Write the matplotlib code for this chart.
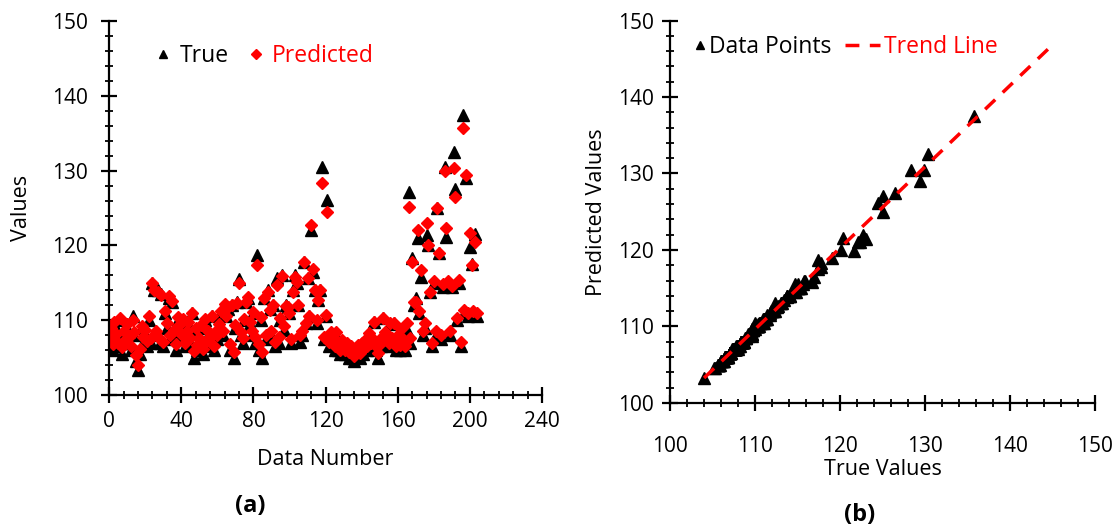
import numpy as np
import matplotlib
matplotlib.use("Agg")
import matplotlib.pyplot as plt
from matplotlib.ticker import MultipleLocator

plt.rcParams["font.family"] = ["Open Sans", "DejaVu Sans"]

# true values
true_vals = [
    107, 108.5, 106, 109.5, 107.5, 106.5, 110, 105.5, 108, 107,
    109, 107, 106, 110.5, 108, 104.5, 103.3, 105.5, 109, 107,
    108, 106.5, 110, 107, 115, 114, 108, 114, 107, 113.5,
    106.5, 111, 109, 113, 107.5, 112.5, 108, 106, 110, 109,
    107.5, 110, 106.5, 108, 109.5, 107, 111, 105, 108.5, 106,
    107, 109, 105.5, 110, 106.5, 108, 107, 110.5, 106, 108,
    107.5, 109, 111, 108, 112, 110.5, 111.5, 106, 112, 105,
    109, 112.5, 115.5, 108, 107, 110, 112.5, 113, 109.5, 108,
    111, 107, 118.7, 106, 110, 105, 113, 107.5, 114, 111.5,
    108, 112, 106.5, 115.6, 107, 110, 116, 108.7, 112, 111.8,
    111, 107, 114, 116, 115, 112, 107.1, 108, 117.8, 109.6,
    115.6, 110.5, 122, 116.5, 114, 109.6, 112.7, 114, 130.5, 107.5,
    110.5, 126.1, 106.5, 108, 107, 106, 108, 106, 105.5, 107,
    106, 105.5, 106.5, 105, 106, 105, 104.5, 105.5, 106, 105,
    106.5, 105.5, 107, 106, 108, 106.5, 107, 109.8, 106, 105,
    107, 106.5, 110.3, 108, 107.5, 106.5, 109.5, 107, 109.6, 106,
    107.5, 106, 108.5, 107, 106, 108.7, 127.1, 107, 118.3, 112,
    113, 121, 111, 115.8, 108, 109, 121.4, 120, 113.8, 106.5,
    115, 108, 125, 119, 107.5, 114.5, 130.5, 121.1, 115, 108,
    114.5, 132.5, 127.5, 110, 115, 106.5, 137.5, 111, 129, 110.5,
    119.8, 117.5, 111, 121.5, 110.5,
]

# predicted values
pred_vals = [
    107.6, 108.9, 106.8, 109.8, 108.2, 107.0, 110.3, 106.4, 108.6, 107.3,
    109.5, 107.8, 106.5, 110.0, 108.4, 105.3, 104.0, 106.2, 109.2, 107.8,
    108.7, 107.2, 110.5, 107.6, 115.0, 114.1, 108.6, 113.8, 107.5, 113.4,
    107.1, 111.2, 109.6, 113.2, 108.0, 112.6, 108.7, 106.8, 110.4, 109.3,
    108.1, 110.2, 107.0, 108.6, 109.8, 107.6, 110.9, 105.9, 108.9, 106.7,
    107.6, 109.4, 106.2, 110.1, 107.2, 108.5, 107.7, 110.6, 106.6, 108.5,
    108.0, 109.5, 111.2, 108.6, 112.2, 110.5, 111.8, 106.8, 112.0, 105.8,
    109.4, 112.3, 115.0, 108.4, 107.6, 110.2, 112.4, 113.1, 109.7, 108.6,
    111.1, 107.8, 117.4, 106.8, 110.4, 105.8, 113.0, 108.0, 113.8, 111.4,
    108.6, 112.0, 107.1, 114.7, 107.7, 110.3, 115.9, 109.2, 111.9, 111.8,
    111.0, 107.5, 113.8, 115.8, 115.1, 112.1, 108.0, 108.5, 117.8, 109.6,
    115.6, 110.6, 122.7, 116.9, 114.1, 110.0, 112.7, 114.0, 128.3, 107.8,
    110.7, 124.5, 107.1, 108.4, 107.6, 106.6, 108.4, 106.5, 106.0, 107.4,
    106.5, 106.0, 107.0, 105.8, 106.5, 105.6, 105.2, 106.0, 106.7, 105.6,
    107.0, 106.2, 107.4, 106.6, 108.3, 107.0, 107.6, 109.8, 106.6, 105.6,
    107.5, 107.0, 110.3, 108.4, 107.9, 107.0, 109.6, 107.6, 109.6, 106.6,
    108.0, 106.7, 108.8, 107.5, 106.6, 109.6, 125.1, 107.6, 117.8, 112.4,
    112.4, 122.1, 111.3, 116.7, 108.6, 109.6, 123.0, 120.1, 113.8, 107.0,
    115.3, 108.5, 125.0, 119.0, 108.0, 114.8, 129.9, 122.3, 115.2, 108.6,
    114.6, 130.3, 126.5, 110.3, 115.4, 107.1, 135.7, 111.4, 129.4, 111.0,
    121.6, 117.4, 111.3, 120.4, 110.9,
]

true_vals = np.array(true_vals)
pred_vals = np.array(pred_vals)
data_num = np.arange(len(true_vals))

fig = plt.figure(figsize=(11.13, 5.26), dpi=100)
ax1 = fig.add_axes([0.098, 0.249, 0.389, 0.711])
ax2 = fig.add_axes([0.602, 0.234, 0.382, 0.727])


def style_axes(ax, xpad, ypad):
    for side in ["top", "right"]:
        ax.spines[side].set_visible(False)
    for side in ["left", "bottom"]:
        ax.spines[side].set_linewidth(1.6)
    ax.tick_params(which="major", direction="inout", length=11, width=1.6, labelsize=15)
    ax.tick_params(which="minor", direction="inout", length=6, width=1.3)
    ax.tick_params(axis="x", which="major", pad=xpad)
    ax.tick_params(axis="y", which="major", pad=ypad)


# panel (a)
ax1.plot(data_num, true_vals, "^", color="black", ms=8.5, label="True")
ax1.plot(data_num, pred_vals, "D", color="red", ms=6.2, label="Predicted")
ax1.set_xlim(0, 240)
ax1.set_ylim(100, 150)
ax1.xaxis.set_major_locator(MultipleLocator(40))
ax1.xaxis.set_minor_locator(MultipleLocator(8))
ax1.yaxis.set_major_locator(MultipleLocator(10))
ax1.yaxis.set_minor_locator(MultipleLocator(2))
style_axes(ax1, 6, 10)
ax1.set_xlabel("Data Number", fontsize=15.5, labelpad=12)
ax1.set_ylabel("Values", fontsize=15.5, labelpad=14)
ax1.legend(loc="center left", bbox_to_anchor=(0.104, 0.906), ncol=2, frameon=False,
           fontsize=16.5, borderpad=0, borderaxespad=0, handlelength=0.8,
           handletextpad=0.3, columnspacing=0.8, markerscale=0.75,
           labelcolor=["black", "red"])
ax1.text(0.326, -0.297, "(a)", transform=ax1.transAxes, ha="center", va="center",
         fontsize=17, fontweight="bold")

# panel (b)
pts, = ax2.plot(pred_vals, true_vals, "^", color="black", ms=8.5, label="Data Points")
coef = np.polyfit(pred_vals, true_vals, 1)
xline = np.array([pred_vals.min(), 144.7])
trend, = ax2.plot(xline, np.polyval(coef, xline), "--", color="red", lw=2.5,
                  dashes=(4, 3), label="Trend Line")
ax2.set_xlim(100, 150)
ax2.set_ylim(100, 150)
for axis in [ax2.xaxis, ax2.yaxis]:
    axis.set_major_locator(MultipleLocator(10))
    axis.set_minor_locator(MultipleLocator(2))
style_axes(ax2, 18, 6)
ax2.set_xlabel("True Values", fontsize=15.5, labelpad=2)
ax2.set_ylabel("Predicted Values", fontsize=15.5, labelpad=8)
leg_pts = ax2.legend(handles=[pts], loc="center left", bbox_to_anchor=(0.054, 0.931),
                     frameon=False, fontsize=16.5, borderpad=0, borderaxespad=0,
                     handlelength=0.6, handletextpad=0.1, markerscale=0.7)
ax2.add_artist(leg_pts)
ax2.legend(handles=[trend], loc="center left", bbox_to_anchor=(0.412, 0.931),
           frameon=False, fontsize=16.5, borderpad=0, borderaxespad=0,
           handlelength=1.5, handletextpad=0.2, labelcolor="red")
ax2.text(0.447, -0.293, "(b)", transform=ax2.transAxes, ha="center", va="center",
         fontsize=17, fontweight="bold")

fig.savefig("out.png", dpi=100)
